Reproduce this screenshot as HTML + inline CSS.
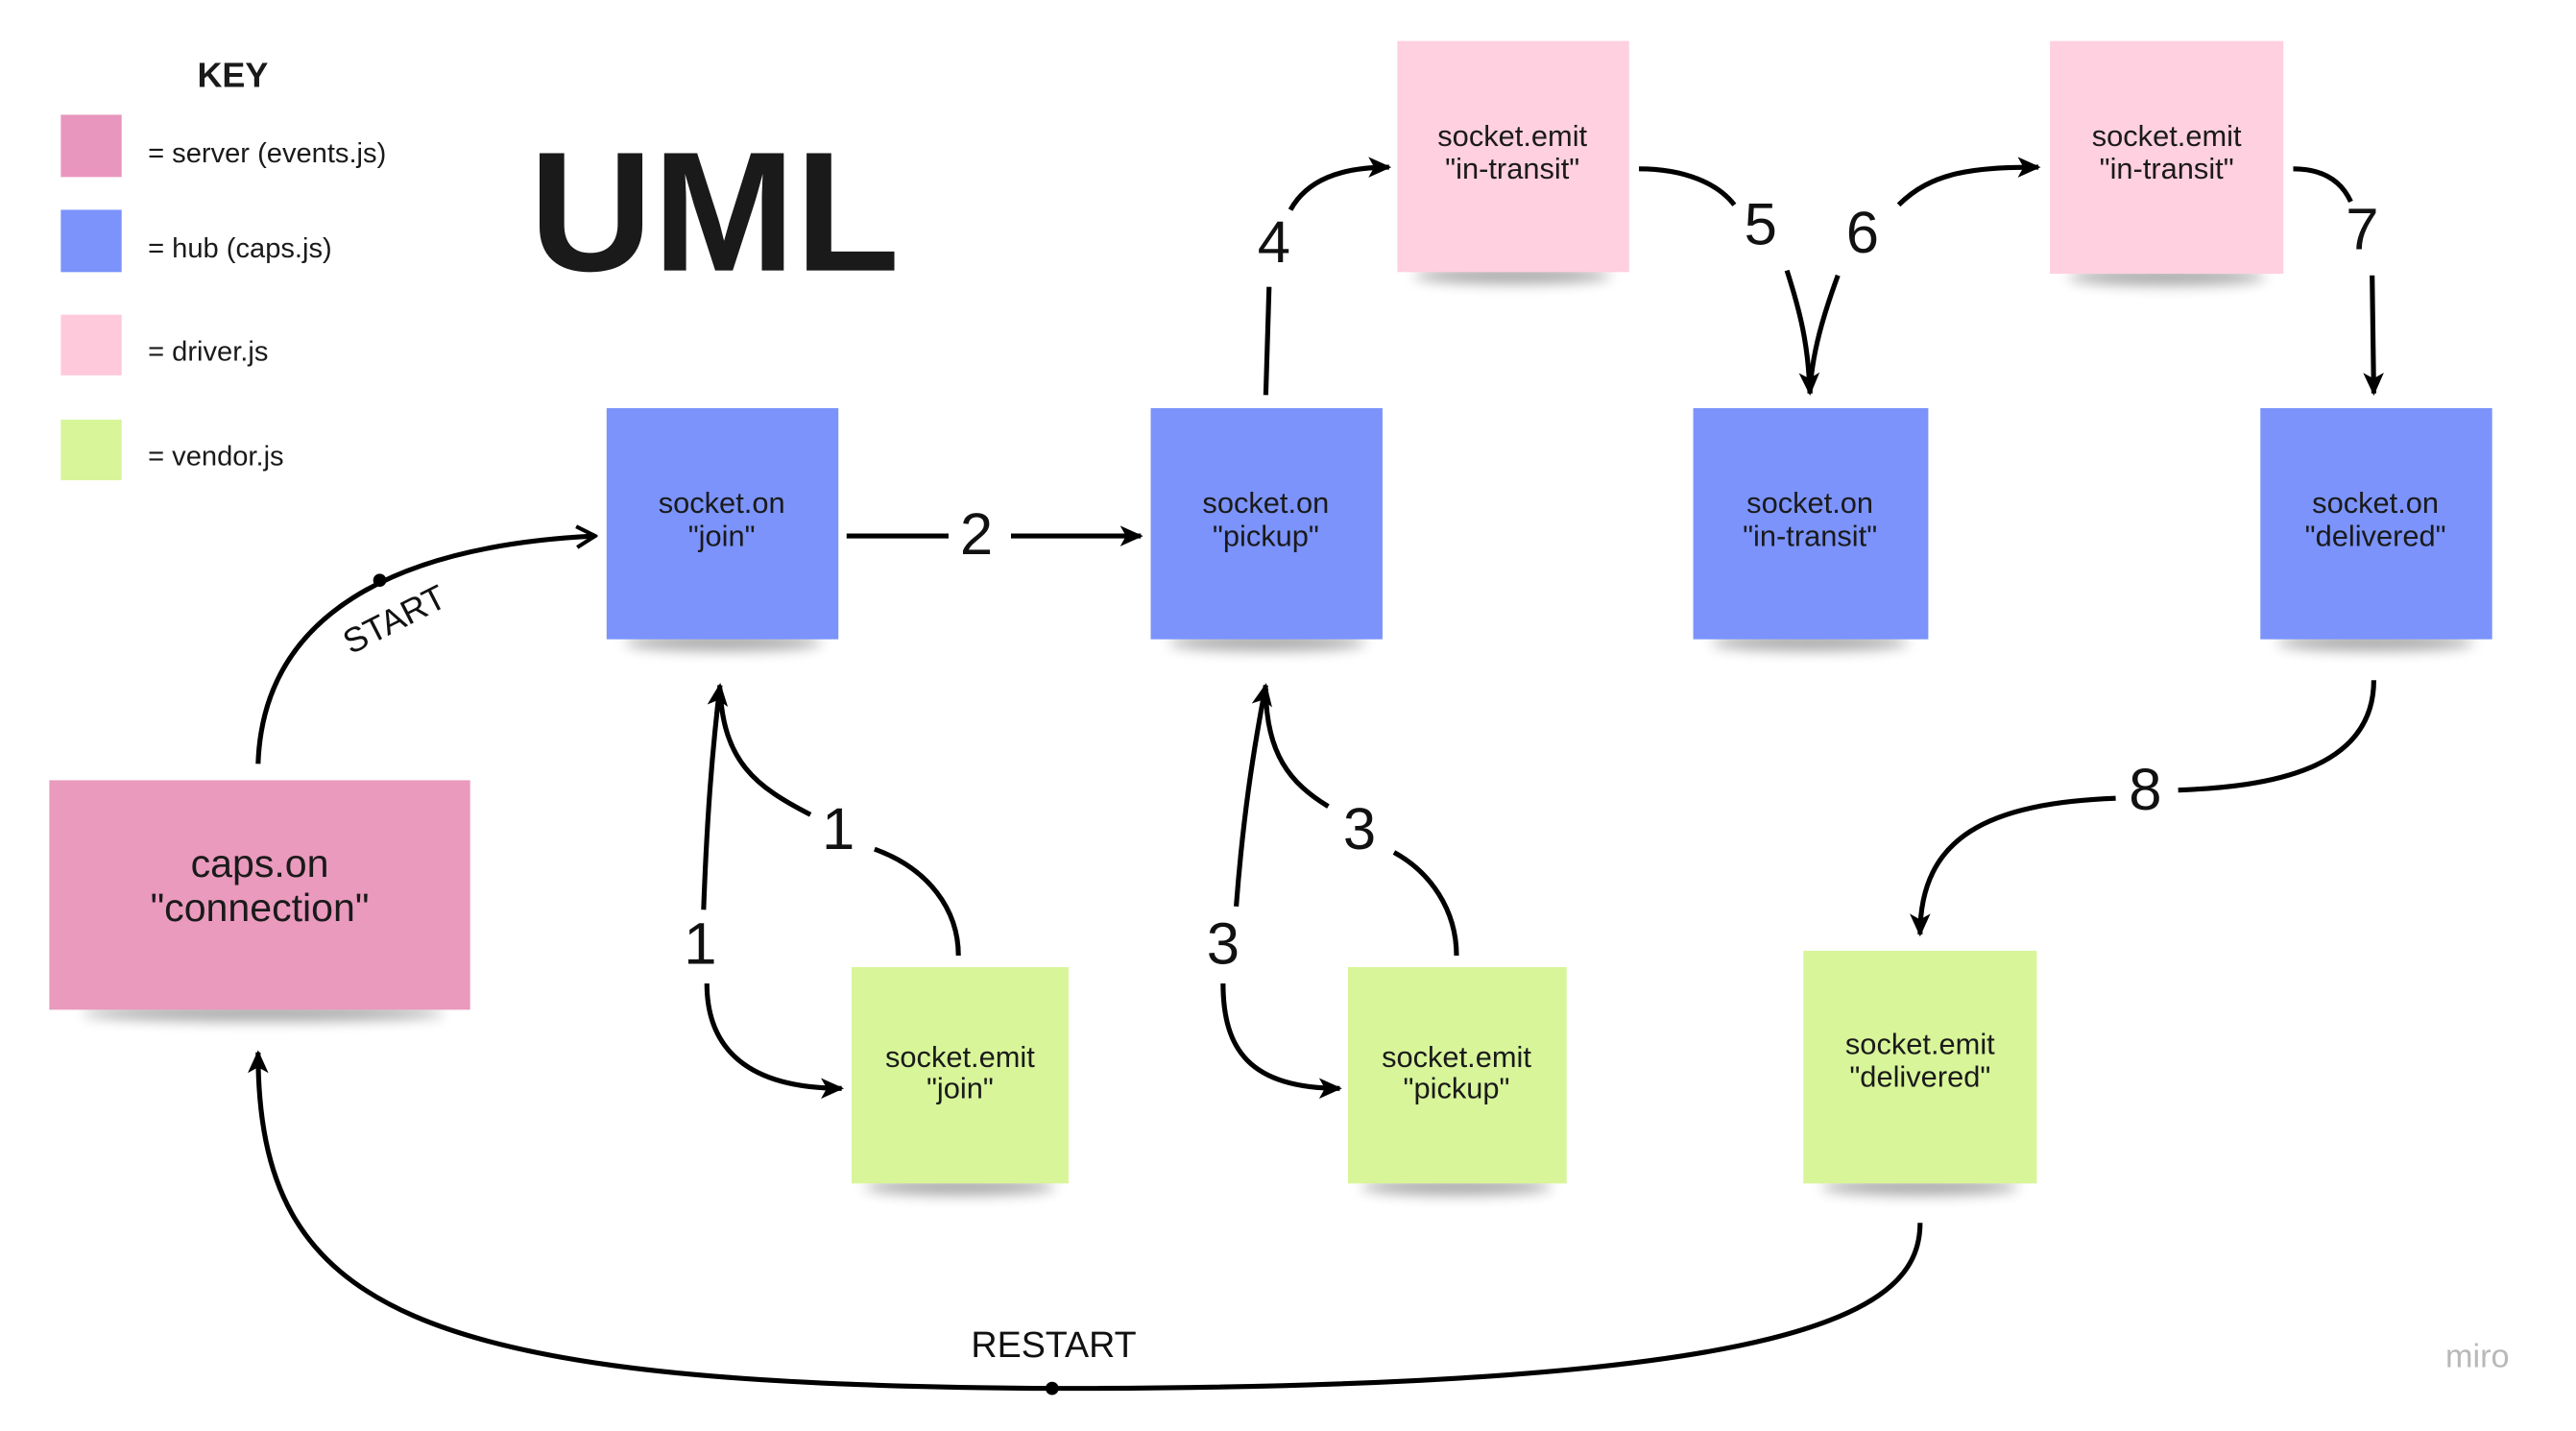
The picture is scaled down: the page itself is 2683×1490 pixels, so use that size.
<!DOCTYPE html>
<html><head><meta charset="utf-8"><style>
html,body{margin:0;padding:0;background:#fff;}
svg{display:block;}
text{font-family:"Liberation Sans","DejaVu Sans",sans-serif;}
</style></head><body>
<svg width="2683" height="1490" viewBox="0 0 1567 873" preserveAspectRatio="none" xmlns="http://www.w3.org/2000/svg">
<defs>
<marker id="a" viewBox="0 0 20 20" refX="18" refY="10" markerWidth="14" markerHeight="14" markerUnits="userSpaceOnUse" orient="auto" style="overflow:visible">
<path d="M0,1 L20,10 L0,19 L5,10 Z" fill="#000"/>
</marker>
<marker id="o" viewBox="0 0 20 20" refX="18" refY="10" markerWidth="16" markerHeight="16" markerUnits="userSpaceOnUse" orient="auto">
<path d="M4,2 L18,10 L4,18" fill="none" stroke="#000" stroke-width="3"/>
</marker>
<filter id="sh" x="-20%" y="-50%" width="140%" height="200%"><feGaussianBlur stdDeviation="4"/></filter>
</defs>
<rect width="1567" height="873" fill="#fff"/>

<text x="120" y="53" font-size="21" font-weight="bold" fill="#1a1a1a">KEY</text>
<rect x="37" y="70" width="37" height="38" fill="#e896bd"/>
<rect x="37" y="128" width="37" height="38" fill="#7b93fb"/>
<rect x="37" y="192" width="37" height="37" fill="#ffc9dc"/>
<rect x="37" y="256" width="37" height="37" fill="#d8f59a"/>
<g font-size="17" fill="#1a1a1a">
<text x="90" y="99">= server (events.js)</text>
<text x="90" y="157">= hub (caps.js)</text>
<text x="90" y="220">= driver.js</text>
<text x="90" y="284">= vendor.js</text>
</g>
<text x="322" y="165" font-size="104" font-weight="bold" fill="#1a1a1a">UML</text>

<g fill="#000" opacity="0.35" filter="url(#sh)">
<ellipse cx="160" cy="618" rx="110" ry="5"/>
<ellipse cx="440" cy="392" rx="60" ry="5"/>
<ellipse cx="771" cy="392" rx="60" ry="5"/>
<ellipse cx="1101" cy="392" rx="60" ry="5"/>
<ellipse cx="1445" cy="392" rx="60" ry="5"/>
<ellipse cx="920" cy="168" rx="60" ry="5"/>
<ellipse cx="1318" cy="169" rx="60" ry="5"/>
<ellipse cx="584" cy="724" rx="58" ry="5"/>
<ellipse cx="886" cy="724" rx="58" ry="5"/>
<ellipse cx="1168" cy="724" rx="60" ry="5"/>
</g>

<rect x="30" y="476" width="256" height="140" fill="#e99abd"/>
<rect x="369" y="249" width="141" height="141" fill="#7b93fb"/>
<rect x="700" y="249" width="141" height="141" fill="#7b93fb"/>
<rect x="1030" y="249" width="143" height="141" fill="#7b93fb"/>
<rect x="1375" y="249" width="141" height="141" fill="#7b93fb"/>
<rect x="850" y="25" width="141" height="141" fill="#ffd0df"/>
<rect x="1247" y="25" width="142" height="142" fill="#ffd0df"/>
<rect x="518" y="590" width="132" height="132" fill="#d8f59a"/>
<rect x="820" y="590" width="133" height="132" fill="#d8f59a"/>
<rect x="1097" y="580" width="142" height="142" fill="#d8f59a"/>

<g text-anchor="middle" fill="#1a1a1a" font-size="18">
<text x="158" y="535" font-size="24">caps.on</text>
<text x="158" y="562" font-size="24">"connection"</text>
<text x="439" y="313">socket.on</text><text x="439" y="333">"join"</text>
<text x="770" y="313">socket.on</text><text x="770" y="333">"pickup"</text>
<text x="1101" y="313">socket.on</text><text x="1101" y="333">"in-transit"</text>
<text x="1445" y="313">socket.on</text><text x="1445" y="333">"delivered"</text>
<text x="920" y="89">socket.emit</text><text x="920" y="109">"in-transit"</text>
<text x="1318" y="89">socket.emit</text><text x="1318" y="109">"in-transit"</text>
<text x="584" y="651">socket.emit</text><text x="584" y="670">"join"</text>
<text x="886" y="651">socket.emit</text><text x="886" y="670">"pickup"</text>
<text x="1168" y="643">socket.emit</text><text x="1168" y="663">"delivered"</text>
</g>

<g fill="none" stroke="#000" stroke-width="3">
<path d="M157,466 C160,375 240,333 362,327" marker-end="url(#o)"/>
<path d="M515,327 L577,327"/>
<path d="M615,327 L694,327" marker-end="url(#a)"/>
<path d="M770,241 L772,175"/>
<path d="M785,128 C795,110 815,102 845,102" marker-end="url(#a)"/>
<path d="M997,103 C1025,103 1045,112 1055,125"/>
<path d="M1087,165 C1095,190 1100,210 1101,240" marker-end="url(#a)"/>
<path d="M1118,168 C1110,190 1102,215 1101,240"/>
<path d="M1155,125 C1175,105 1200,102 1240,102" marker-end="url(#a)"/>
<path d="M1395,103 C1415,103 1425,112 1430,123"/>
<path d="M1443,168 L1444,240" marker-end="url(#a)"/>
<path d="M1444,415 C1444,470 1380,480 1325,482"/>
<path d="M1287,487 C1210,490 1168,510 1168,570" marker-end="url(#a)"/>
<path d="M428,555 C430,500 433,460 438,418" marker-end="url(#a)"/>
<path d="M493,497 C460,480 440,465 438,420"/>
<path d="M583,583 C583,555 565,530 532,518"/>
<path d="M430,600 C430,640 455,664 512,664" marker-end="url(#a)"/>
<path d="M752,553 C756,500 762,460 770,418" marker-end="url(#a)"/>
<path d="M808,492 C785,478 770,460 770,420"/>
<path d="M886,583 C886,555 870,532 848,520"/>
<path d="M744,600 C744,640 760,664 815,664" marker-end="url(#a)"/>
<path d="M1168,746 C1168,800 1100,847 640,847 C250,845 157,800 157,642" marker-end="url(#a)"/>
</g>
<circle cx="231" cy="354" r="4" fill="#000"/>
<circle cx="640" cy="847" r="4" fill="#000"/>

<g font-size="36" fill="#111" text-anchor="middle">
<text x="594" y="338">2</text>
<text x="775" y="160">4</text>
<text x="1071" y="149">5</text>
<text x="1133" y="154">6</text>
<text x="1437" y="152">7</text>
<text x="1305" y="494">8</text>
<text x="510" y="518">1</text>
<text x="426" y="588">1</text>
<text x="827" y="518">3</text>
<text x="744" y="588">3</text>
</g>
<text x="240" y="385" font-size="21" fill="#111" text-anchor="middle" transform="rotate(-27 240 378)">START</text>
<text x="641" y="828" font-size="22" fill="#111" text-anchor="middle">RESTART</text>
<text x="1507" y="834" font-size="20" fill="#b8b8b8" text-anchor="middle">miro</text>
</svg>
</body></html>
